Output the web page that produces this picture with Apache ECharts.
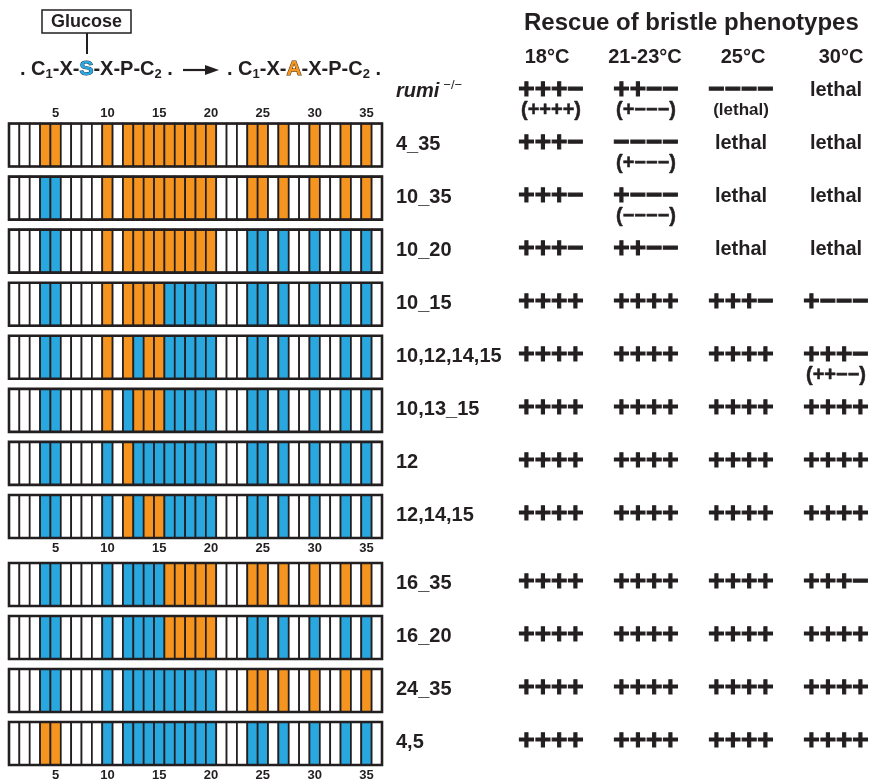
<!DOCTYPE html>
<html>
<head>
<meta charset="utf-8">
<script src="https://cdn.jsdelivr.net/npm/echarts@6/dist/echarts.min.js"></script>
<style>
html,body{margin:0;padding:0;background:#fff;}
#chart{width:870px;height:783px;}
</style>
</head>
<body>
<div id="chart"></div>
<script>
// ---------- DATA ----------
const positions = ['1','2','3','4','5','6','7','8','9','10','11','12','13','14','15','16','17','18',
  '19','20','21','22','23','24','25','26','27','28','29','30','31','32','33','34','35','36'];
const glycoSites = [4,5,10,12,13,14,15,16,17,18,19,20,24,25,27,30,33,35];
const constructs = ['4_35','10_35','10_20','10_15','10,12,14,15','10,13_15','12','12,14,15',
  '16_35','16_20','24_35','4,5'];
const mutatedSites = [
  [4,5,10,12,13,14,15,16,17,18,19,20,24,25,27,30,33,35],
  [10,12,13,14,15,16,17,18,19,20,24,25,27,30,33,35],
  [10,12,13,14,15,16,17,18,19,20],
  [10,12,13,14,15],
  [10,12,14,15],
  [10,13,14,15],
  [12],
  [12,14,15],
  [16,17,18,19,20,24,25,27,30,33,35],
  [16,17,18,19,20],
  [24,25,27,30,33,35],
  [4,5]
];
const temperatures = ['18°C','21-23°C','25°C','30°C'];
const tableRows = ['rumi','4_35','10_35','10_20','10_15','10,12,14,15','10,13_15','12','12,14,15',
  '16_35','16_20','24_35','4,5'];
const rescueMain = [
  ['+++−','++−−','−−−−','lethal'],
  ['+++−','−−−−','lethal','lethal'],
  ['+++−','+−−−','lethal','lethal'],
  ['+++−','++−−','lethal','lethal'],
  ['++++','++++','+++−','+−−−'],
  ['++++','++++','++++','+++−'],
  ['++++','++++','++++','++++'],
  ['++++','++++','++++','++++'],
  ['++++','++++','++++','++++'],
  ['++++','++++','++++','+++−'],
  ['++++','++++','++++','++++'],
  ['++++','++++','++++','++++'],
  ['++++','++++','++++','++++']
];
const rescueSub = [
  ['(++++)','(+−−−)','(lethal)',''],
  ['','(+−−−)','',''],
  ['','(−−−−)','',''],
  ['','','',''],
  ['','','',''],
  ['','','','(++−−)'],
  ['','','',''],
  ['','','',''],
  ['','','',''],
  ['','','',''],
  ['','','',''],
  ['','','',''],
  ['','','','']
];
const title = 'Rescue of bristle phenotypes';

// ---------- BUILD ----------
const FF = '"Liberation Sans", Arial, Helvetica, sans-serif';
const INK = '#231f20';
const FILL = ['#ffffff', '#29a8e0', '#f5951f']; // 0 none, 1 wild-type site, 2 mutated site

function cellData(rowStart, rowEnd) {
  const out = [];
  for (let r = rowStart; r < rowEnd; r++) {
    positions.forEach((p, i) => {
      const n = i + 1;
      let st = 0;
      if (glycoSites.indexOf(n) >= 0) st = mutatedSites[r].indexOf(n) >= 0 ? 2 : 1;
      out.push([i, r - rowStart, st]);
    });
  }
  return out;
}
function frameData(rowStart, rowEnd) {
  const out = [];
  for (let r = rowStart; r < rowEnd; r++) out.push([0, r - rowStart]);
  return out;
}
function tableData(rowStart, rowEnd) {
  const out = [];
  for (let r = rowStart; r < rowEnd; r++) {
    temperatures.forEach((t, c) => {
      out.push({ value: [c, r - rowStart], main: rescueMain[r][c], sub: rescueSub[r][c] });
    });
  }
  return out;
}

function renderCell(params, api) {
  const c = api.coord([api.value(0), api.value(1)]);
  const s = api.size([1, 1]);
  const h = s[1] * 0.81;
  return {
    type: 'rect',
    shape: { x: c[0] - s[0] / 2, y: c[1] - h / 2, width: s[0], height: h },
    style: { fill: FILL[api.value(2)], stroke: INK, lineWidth: 1.7 }
  };
}
function renderFrame(params, api) {
  const a = api.coord([0, api.value(1)]);
  const b = api.coord([positions.length - 1, api.value(1)]);
  const s = api.size([1, 1]);
  const h = s[1] * 0.81;
  return {
    type: 'rect',
    shape: { x: a[0] - s[0] / 2, y: a[1] - h / 2, width: b[0] - a[0] + s[0], height: h },
    style: { fill: 'none', stroke: INK, lineWidth: 2.6 }
  };
}
function makeTableRenderer(data) {
  return function (params, api) {
    const item = data[params.dataIndex];
    const c = api.coord([api.value(0), api.value(1)]);
    const children = [];
    const isWord = item.main.indexOf('lethal') >= 0;
    children.push({
      type: 'text', x: c[0], y: c[1] - 1,
      style: {
        text: item.main, align: 'center', verticalAlign: 'middle', fill: INK,
        stroke: isWord ? null : INK, lineWidth: isWord ? 0 : 1.1,
        font: 'bold ' + (isWord ? 20 : 28) + 'px ' + FF
      }
    });
    if (item.sub) {
      const subWord = item.sub.indexOf('lethal') >= 0;
      children.push({
        type: 'text', x: c[0], y: c[1] + 19,
        style: {
          text: item.sub, align: 'center', verticalAlign: 'middle', fill: INK,
          stroke: subWord ? null : INK, lineWidth: subWord ? 0 : 0.5,
          font: 'bold ' + (subWord ? 17 : 20) + 'px ' + FF
        }
      });
    }
    return { type: 'group', children: children };
  };
}

const tA = tableData(0, 9), tB = tableData(9, 13);

const posLabel = (pos, margin) => ({
  show: true, interval: (idx) => (idx + 1) % 5 === 0,
  fontFamily: FF, fontWeight: 'bold', fontSize: 13, color: INK, margin: margin
});
const hiddenAxisParts = { axisLine: { show: false }, axisTick: { show: false }, splitLine: { show: false } };

const rowLabel = {
  show: true, align: 'left', margin: 155, color: INK,
  formatter: (v) => v === 'rumi' ? '{it|rumi}{sup|−/−}' : '{b|' + v + '}',
  rich: {
    it: { fontFamily: FF, fontSize: 20, fontWeight: 'bold', fontStyle: 'italic', color: INK },
    sup: { fontFamily: FF, fontSize: 13, color: INK, padding: [0, 0, 12, 4] },
    b: { fontFamily: FF, fontSize: 20, fontWeight: 'bold', color: INK }
  }
};

const chart = echarts.init(document.getElementById('chart'), null, { renderer: 'canvas' });
chart.setOption({
  backgroundColor: '#ffffff',
  animation: false,
  title: {
    text: title, left: 524, top: 11, padding: 0,
    textStyle: { fontFamily: FF, fontSize: 24, fontWeight: 'bold', color: INK }
  },
  grid: [
    { left: 9, top: 118.5, width: 373, height: 424.5 },
    { left: 9, top: 558, width: 373, height: 212 },
    { left: 551, top: 64.5, width: 285, height: 477 },
    { left: 551, top: 557, width: 285, height: 212 },
    { left: 547, top: 67, width: 294, height: 2 }
  ],
  xAxis: [
    Object.assign({ gridIndex: 0, type: 'category', data: positions, position: 'top', axisLabel: posLabel('top', -1) }, hiddenAxisParts),
    Object.assign({ gridIndex: 0, type: 'category', data: positions, position: 'bottom', axisLabel: posLabel('bottom', -1.5) }, hiddenAxisParts),
    Object.assign({ gridIndex: 1, type: 'category', data: positions, position: 'bottom', axisLabel: posLabel('bottom', -1.5) }, hiddenAxisParts),
    { gridIndex: 2, type: 'category', data: temperatures, boundaryGap: false, show: false },
    { gridIndex: 3, type: 'category', data: temperatures, boundaryGap: false, show: false },
    Object.assign({ gridIndex: 4, type: 'category', data: temperatures, boundaryGap: false, position: 'top',
      axisLabel: { fontFamily: FF, fontSize: 20, fontWeight: 'bold', color: INK, margin: 0, interval: 0 } }, hiddenAxisParts)
  ],
  yAxis: [
    { gridIndex: 0, type: 'category', data: constructs.slice(0, 8), inverse: true, show: false },
    { gridIndex: 1, type: 'category', data: constructs.slice(8), inverse: true, show: false },
    Object.assign({ gridIndex: 2, type: 'category', data: tableRows.slice(0, 9), inverse: true, axisLabel: rowLabel }, hiddenAxisParts),
    Object.assign({ gridIndex: 3, type: 'category', data: tableRows.slice(9), inverse: true, axisLabel: rowLabel }, hiddenAxisParts),
    { gridIndex: 4, type: 'value', show: false }
  ],
  graphic: [
    { type: 'rect', shape: { x: 42, y: 10, width: 89, height: 23 }, style: { fill: '#fff', stroke: INK, lineWidth: 1.5 } },
    { type: 'text', x: 86.5, y: 22, style: { text: 'Glucose', align: 'center', verticalAlign: 'middle', fill: INK, font: 'bold 18px ' + FF } },
    { type: 'line', shape: { x1: 87, y1: 33, x2: 87, y2: 54 }, style: { stroke: INK, lineWidth: 2 } },
    { type: 'text', x: 20, y: 69, style: {
        text: '. C{sub|1}-X-{s|S}-X-P-C{sub|2} .', verticalAlign: 'middle', fill: INK, font: 'bold 20px ' + FF,
        rich: {
          sub: { font: 'bold 13px ' + FF, fill: INK, padding: [10, 0, 0, 0] },
          s: { font: 'bold 21px ' + FF, fill: '#29a8e0', stroke: '#1b3550', lineWidth: 1 }
        } } },
    { type: 'line', shape: { x1: 183, y1: 70, x2: 209, y2: 70 }, style: { stroke: INK, lineWidth: 2.2 } },
    { type: 'polygon', shape: { points: [[205, 65], [219, 70], [205, 75]] }, style: { fill: INK } },
    { type: 'text', x: 227, y: 69, style: {
        text: '. C{sub|1}-X-{a|A}-X-P-C{sub|2} .', verticalAlign: 'middle', fill: INK, font: 'bold 20px ' + FF,
        rich: {
          sub: { font: 'bold 13px ' + FF, fill: INK, padding: [10, 0, 0, 0] },
          a: { font: 'bold 21px ' + FF, fill: '#f5951f', stroke: '#4a3010', lineWidth: 1 }
        } } }
  ],
  series: [
    { type: 'custom', xAxisIndex: 0, yAxisIndex: 0, data: cellData(0, 8), encode: { x: 0, y: 1 }, renderItem: renderCell },
    { type: 'custom', xAxisIndex: 2, yAxisIndex: 1, data: cellData(8, 12), encode: { x: 0, y: 1 }, renderItem: renderCell },
    { type: 'custom', xAxisIndex: 0, yAxisIndex: 0, data: frameData(0, 8), encode: { x: 0, y: 1 }, renderItem: renderFrame },
    { type: 'custom', xAxisIndex: 2, yAxisIndex: 1, data: frameData(8, 12), encode: { x: 0, y: 1 }, renderItem: renderFrame },
    { type: 'custom', xAxisIndex: 3, yAxisIndex: 2, data: tA, encode: { x: 0, y: 1 }, renderItem: makeTableRenderer(tA) },
    { type: 'custom', xAxisIndex: 4, yAxisIndex: 3, data: tB, encode: { x: 0, y: 1 }, renderItem: makeTableRenderer(tB) }
  ]
});
</script>
</body>
</html>
